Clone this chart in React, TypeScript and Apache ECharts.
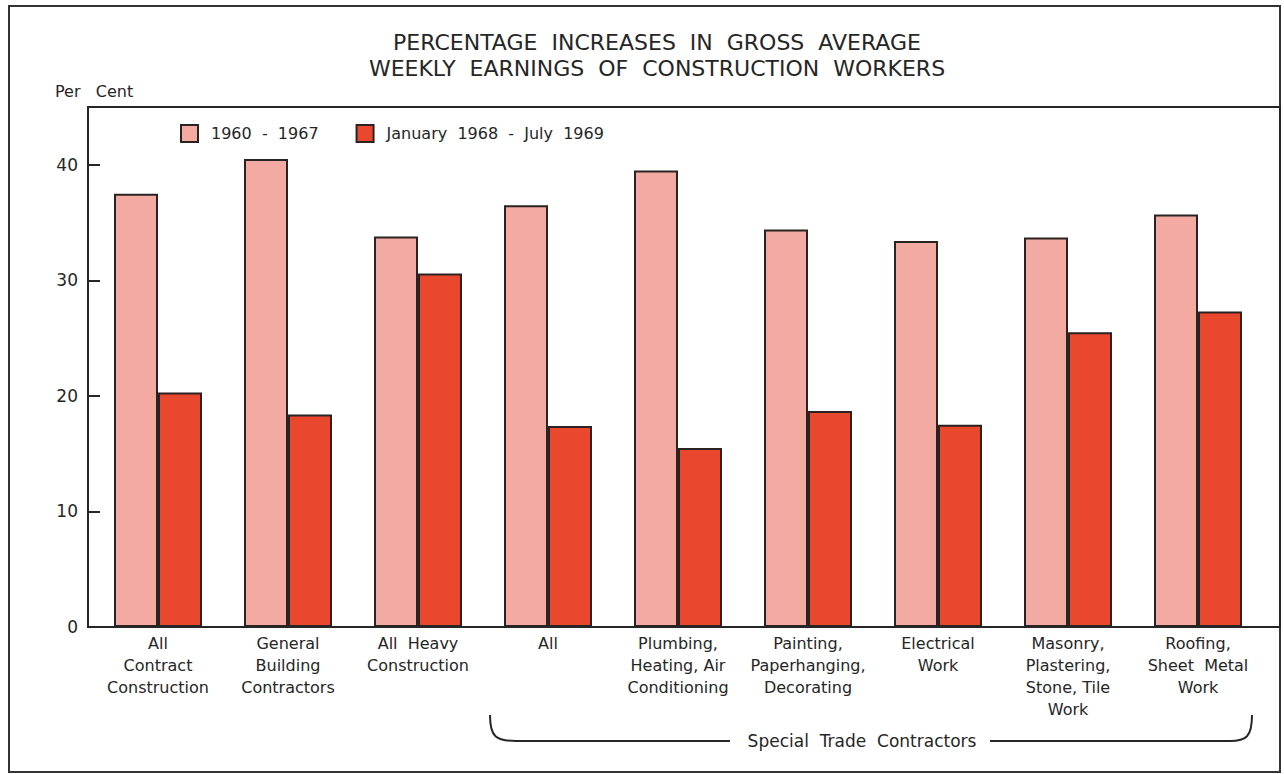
import React, { useEffect, useRef } from "react";
import * as echarts from "echarts";

const categories = [
  "All\nContract\nConstruction",
  "General\nBuilding\nContractors",
  "All  Heavy\nConstruction",
  "All",
  "Plumbing,\nHeating, Air\nConditioning",
  "Painting,\nPaperhanging,\nDecorating",
  "Electrical\nWork",
  "Masonry,\nPlastering,\nStone, Tile\nWork",
  "Roofing,\nSheet  Metal\nWork",
];
const series1960 = [37.5, 40.5, 33.8, 36.5, 39.5, 34.4, 33.4, 33.7, 35.7];
const series1968 = [20.3, 18.4, 30.6, 17.4, 15.5, 18.7, 17.5, 25.5, 27.3];
const seriesNames = ["1960  -  1967", "January  1968  -  July  1969"];
const yTicks = { min: 0, max: 45, interval: 10 };
const titleLines = ["PERCENTAGE  INCREASES  IN  GROSS  AVERAGE", "WEEKLY  EARNINGS  OF  CONSTRUCTION  WORKERS"];
const groupLabel = "Special  Trade  Contractors";

const FONT = "'DejaVu Sans', sans-serif";
const INK = "#262626";

echarts.graphic.registerShape(
  "bracketLeft",
  echarts.graphic.extendPath("M 0 0 C 0 22 6 26 26 26 L 240 26", {})
);
echarts.graphic.registerShape(
  "bracketRight",
  echarts.graphic.extendPath("M 0 26 L 240 26 C 256 26 262 22 262 0", {})
);

export default function App() {
  const ref = useRef<HTMLDivElement>(null);
  useEffect(() => {
    if (!ref.current) return;
    const chart = echarts.init(ref.current, null, { renderer: "svg" });
    chart.setOption({
      animation: false,
      backgroundColor: "#ffffff",
      textStyle: { fontFamily: FONT },
      grid: { left: 93, right: 21, top: 107, bottom: 147, containLabel: false },
      legend: {
        left: 180,
        top: 124,
        padding: 0,
        itemWidth: 17,
        itemHeight: 17,
        itemGap: 37,
        icon: "rect",
        textStyle: { fontSize: 16, color: INK, fontFamily: FONT, padding: [0, 0, 0, 8] },
        data: seriesNames,
      },
      xAxis: {
        type: "category",
        data: categories,
        axisLine: { show: false },
        axisTick: { show: false },
        axisLabel: {
          interval: 0,
          fontSize: 16,
          lineHeight: 22,
          color: INK,
          margin: 5,
          fontFamily: FONT,
        },
      },
      yAxis: {
        type: "value",
        min: yTicks.min,
        max: yTicks.max,
        interval: yTicks.interval,
        offset: 5,
        splitLine: { show: false },
        axisLine: { show: false },
        axisTick: { show: true, inside: true, length: 12, lineStyle: { color: INK, width: 2 } },
        axisLabel: {
          fontSize: 17,
          color: INK,
          margin: 10,
          fontFamily: FONT,
          formatter: (v: number) => (v % 10 === 0 && v <= 40 ? String(v) : ""),
        },
      },
      series: [
        {
          name: seriesNames[0],
          type: "bar",
          data: series1960,
          barWidth: 44,
          barGap: "0%",
          itemStyle: { color: "#f3aaa2", borderColor: "#2b2222", borderWidth: 2 },
        },
        {
          name: seriesNames[1],
          type: "bar",
          data: series1968,
          barWidth: 44,
          barGap: "0%",
          itemStyle: { color: "#e9482f", borderColor: "#2b2222", borderWidth: 2 },
        },
      ],
      graphic: [
        {
          type: "rect",
          shape: { x: 9, y: 6, width: 1271, height: 766 },
          style: { fill: "none", stroke: "#333", lineWidth: 2 },
          silent: true,
          z: 100,
        },
        {
          type: "rect",
          shape: { x: 88, y: 107, width: 1192, height: 520 },
          style: { fill: "none", stroke: INK, lineWidth: 2 },
          silent: true,
          z: 100,
        },
        {
          type: "text",
          x: 657,
          y: 42,
          style: { text: titleLines[0], fontSize: 22, fill: INK, fontFamily: FONT, align: "center", verticalAlign: "middle" },
        },
        {
          type: "text",
          x: 657,
          y: 68,
          style: { text: titleLines[1], fontSize: 22, fill: INK, fontFamily: FONT, align: "center", verticalAlign: "middle" },
        },
        {
          type: "text",
          x: 55,
          y: 91,
          style: { text: "Per   Cent", fontSize: 16, fill: INK, fontFamily: FONT, align: "left", verticalAlign: "middle" },
        },
        {
          type: "bracketLeft",
          x: 490,
          y: 715,
          style: { fill: "none", stroke: INK, lineWidth: 2 },
        },
        {
          type: "bracketRight",
          x: 990,
          y: 715,
          style: { fill: "none", stroke: INK, lineWidth: 2 },
        },
        {
          type: "text",
          x: 862,
          y: 741,
          style: { text: groupLabel, fontSize: 17, fill: INK, fontFamily: FONT, align: "center", verticalAlign: "middle" },
        },
      ],
    });
    return () => chart.dispose();
  }, []);
  return <div ref={ref} style={{ position: "fixed", left: 0, top: 0, width: 1284, height: 774 }} />;
}
